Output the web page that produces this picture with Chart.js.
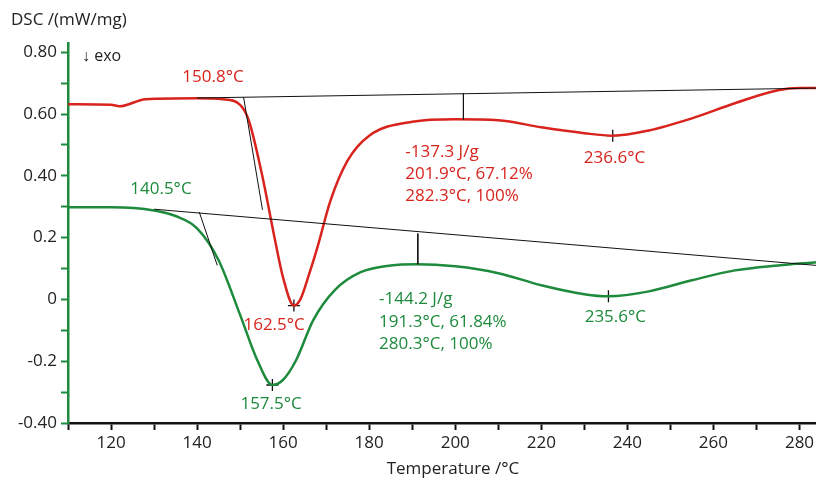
<!DOCTYPE html>
<html><head><meta charset="utf-8">
<script src="https://cdn.jsdelivr.net/npm/chart.js@4"></script>
<style>html,body{margin:0;background:#fff;overflow:hidden}canvas{display:block}</style>
</head><body><canvas id="c" width="824" height="481"></canvas>
<script>
const redX = [110,120,122,128,140,146,150,152,155,158,160,162.5,164,166,168,171,175,180,190,200,210,220,230,236.6,245,255,265,275,280,284];
const redY = [0.632,0.63,0.625,0.648,0.651,0.648,0.63,0.58,0.41,0.2,0.07,-0.02,0,0.08,0.17,0.32,0.45,0.53,0.575,0.583,0.58,0.557,0.538,0.53,0.547,0.586,0.635,0.677,0.684,0.684];
const greenX = [110,120,130,135,140,145,150,154,157.5,160,163,167,172,178,185,191,200,210,220,230,235.6,245,255,265,275,284];
const greenY = [0.298,0.298,0.288,0.27,0.23,0.127,-0.05,-0.197,-0.277,-0.26,-0.197,-0.067,0.03,0.088,0.11,0.114,0.107,0.085,0.046,0.017,0.01,0.026,0.062,0.094,0.11,0.12];
const redPeaks = [[162.5,-0.02],[236.6,0.53]];
const greenPeaks = [[157.5,-0.277],[235.6,0.01]];
const xTicks = [110,120,130,140,150,160,170,180,190,200,210,220,230,240,250,260,270,280];
const yTicks = [-0.4,-0.3,-0.2,-0.1,0,0.1,0.2,0.3,0.4,0.5,0.6,0.7,0.8];
const constrLines = [
  [[140,0.652],[284,0.684]], [[150.8,0.655],[155.2,0.29]], [[201.9,0.666],[201.9,0.583]],
  [[130,0.292],[284,0.11]], [[140.5,0.283],[144.7,0.11]], [[191.3,0.213],[191.3,0.114]]
];
const RED = '#d9231d', GREEN = '#1d8a3c';
const notes = [
  ['150.8°C',143.7,0.72,RED,'center'],
  ['-137.3 J/g',188.4,0.476,RED,'left'],['201.9°C, 67.12%',188.4,0.405,RED,'left'],['282.3°C, 100%',188.4,0.333,RED,'left'],
  ['236.6°C',237,0.457,RED,'center'],['162.5°C',157.9,-0.083,RED,'center'],
  ['140.5°C',131.6,0.357,GREEN,'center'],
  ['-144.2 J/g',182.3,0.0,GREEN,'left'],['191.3°C, 61.84%',182.3,-0.074,GREEN,'left'],['280.3°C, 100%',182.3,-0.145,GREEN,'left'],
  ['235.6°C',237.2,-0.058,GREEN,'center'],['157.5°C',157.2,-0.34,GREEN,'center']
];
const pts = (xs, ys) => xs.map((x,i)=>({x, y: ys[i]}));
const datasets = [];
constrLines.forEach(l => datasets.push({data:l.map(p=>({x:p[0],y:p[1]})),borderColor:'#111',borderWidth:1,pointRadius:0,tension:0}));
datasets.push({data:pts(redX,redY),borderColor:RED,borderWidth:2.5,pointRadius:0,cubicInterpolationMode:'monotone'});
datasets.push({data:pts(greenX,greenY),borderColor:GREEN,borderWidth:2.5,pointRadius:0,cubicInterpolationMode:'monotone'});
datasets.push({data:redPeaks.concat(greenPeaks).map(p=>({x:p[0],y:p[1]})),showLine:false,pointStyle:'cross',pointRadius:6,borderColor:'#111',borderWidth:1.3});
const font = '"Open Sans", "Noto Sans", sans-serif';
const textPlugin = {
  id:'txt',
  afterDatasetsDraw(chart){
    const {ctx, scales:{x,y}} = chart;
    ctx.save();
    ctx.font = '17px ' + font; ctx.textBaseline = 'middle';
    notes.forEach(n => { ctx.fillStyle = n[3]; ctx.textAlign = n[4]; ctx.fillText(n[0], x.getPixelForValue(n[1]), y.getPixelForValue(n[2])); });
    ctx.fillStyle = '#222'; ctx.textAlign = 'left';
    ctx.font = '16px ' + font; ctx.fillText('↓ exo', 82, 56);
    ctx.font = '17px ' + font; ctx.fillText('DSC /(mW/mg)', 11, 20);
    ctx.textAlign = 'center'; ctx.fillText('Temperature /°C', 453, 469);
    ctx.restore();
  }
};
new Chart(document.getElementById('c'), {
  type:'scatter',
  data:{datasets: datasets.map(d => Object.assign({showLine: d.showLine !== false}, d))},
  plugins:[textPlugin],
  options:{
    responsive:false, animation:false, devicePixelRatio:1,
    layout:{padding:{top:43,right:0}},
    plugins:{legend:{display:false},tooltip:{enabled:false}},
    scales:{
      x:{min:110,max:284,
        afterFit(s){s.height=58;},
        afterBuildTicks(s){s.ticks=xTicks.map(v=>({value:v}));},
        grid:{drawOnChartArea:false,color:'#111',tickLength:7,tickWidth:2},
        border:{color:'#111',width:2.5},
        ticks:{color:'#222',font:{family:font,size:17},maxRotation:0,
          callback:v => (v%20===0 && v>110) ? v : ''}},
      y:{min:-0.4,max:0.83,
        afterFit(s){s.width=68;},
        afterBuildTicks(s){s.ticks=yTicks.map(v=>({value:v}));},
        grid:{drawOnChartArea:false,color:GREEN,tickLength:7,tickWidth:2},
        border:{color:GREEN,width:2.5},
        ticks:{color:'#222',font:{family:font,size:17},padding:4,
          callback:v => {const m={'-0.4':'-0.40','-0.2':'-0.2','0':'0','0.2':'0.2','0.4':'0.40','0.6':'0.60','0.8':'0.80'};return m[String(Math.round(v*10)/10)]||'';}}}
    }
  }
});
</script></body></html>
